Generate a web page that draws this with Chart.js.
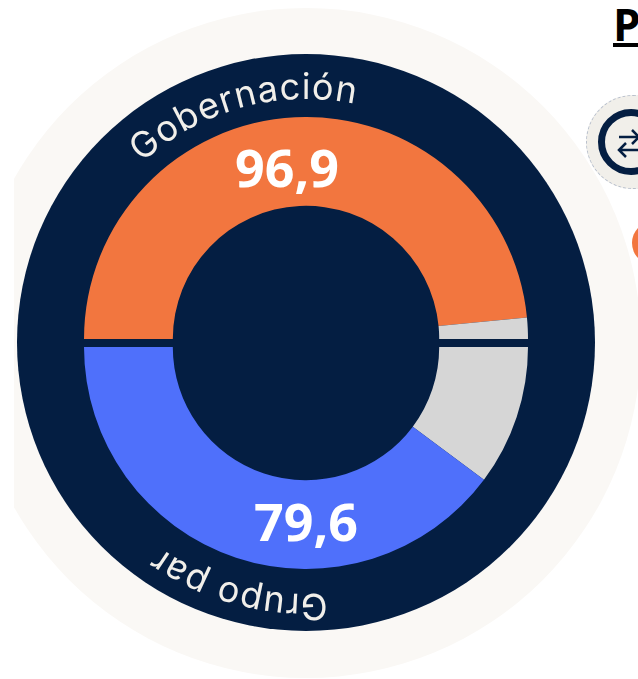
<!DOCTYPE html>
<html>
<head>
<meta charset="utf-8">
<script src="https://cdn.jsdelivr.net/npm/chart.js@4"></script>
<style>
  html, body { margin: 0; padding: 0; background: #fff; width: 638px; height: 679px; overflow: hidden; }
  #page { position: relative; width: 638px; height: 679px; overflow: hidden; }
  #halo { position: absolute; left: 14px; top: 0; width: 624px; height: 679px; overflow: hidden; }
  #halo div { position: absolute; left: -43px; top: 8px; width: 670px; height: 670px; border-radius: 50%; background: #faf8f5; }
  #navy { position: absolute; left: 17px; top: 54px; width: 578px; height: 577px; border-radius: 50%; background: #041e42; }
  canvas { position: absolute; }
  #curved { position: absolute; left: 0; top: 0; }
  #title { position: absolute; left: 613px; top: -6px; font: bold 44px "Open Sans"; color: #000; text-decoration: underline; text-decoration-thickness: 4px; }
  #swap { position: absolute; left: 586px; top: 95px; width: 94px; height: 94px; border-radius: 50%; background: #f1efea; border: 1px dashed #b9c0cc; box-sizing: border-box; }
  #swap div { position: absolute; left: 11px; top: 13px; width: 66px; height: 66px; border-radius: 50%; border: 7px solid #041e42; box-sizing: border-box; }
  #dot { position: absolute; left: 632px; top: 221px; width: 44px; height: 44px; border-radius: 50%; background: #f2763f; }
</style>
</head>
<body>
<div id="page">
  <div id="halo"><div></div></div>
  <div id="navy"></div>
  <canvas id="topChart" width="444" height="222" style="left:84px;top:117px;width:444px;height:222px"></canvas>
  <canvas id="bottomChart" width="444" height="222" style="left:84px;top:347px;width:444px;height:222px"></canvas>
  <div id="title">P</div>
  <div id="swap"><div></div></div>
  <div id="dot"></div>
  <svg id="curved" width="638" height="679">
    <defs>
      <path id="topPath" d="M 63 342 A 243 243 0 0 1 549 342"></path>
      <path id="bottomPath" d="M 558 342 A 252 252 0 0 1 54 342"></path>
    </defs>
    <text font-family="Inter" font-size="36" letter-spacing="1" fill="#f1efea" text-anchor="middle">
      <textPath href="#topPath" startOffset="41.5%">Gobernación</textPath>
    </text>
    <text font-family="Inter" font-size="36" letter-spacing="0.6" fill="#f1efea" text-anchor="middle">
      <textPath href="#bottomPath" startOffset="58.5%">Grupo par</textPath>
    </text>
    <g stroke="#041e42" stroke-width="2.5" fill="none">
      <path d="M 619 137 H 640 M 632 130 L 639 137 L 632 144 M 619 150 H 640 M 626 143 L 619 150 L 626 157"></path>
    </g>
  </svg>
</div>
<script>
/* Data */
const topLabels = ['Gobernación', 'Resto'];
const topValues = [96.9, 3.1];
const bottomLabels = ['Resto', 'Grupo par'];
const bottomValues = [20.4, 79.6];

/* Value on the coloured slice */
const valueLabel = {
  id: 'valueLabel',
  afterDraw(chart, args, opts) {
    const text = chart.data.datasets[0].data[opts.index].toFixed(1).replace('.', ',');
    const c = chart.ctx;
    c.save();
    c.font = 'bold 52px "Open Sans"';
    c.fillStyle = '#fff';
    c.textAlign = 'center';
    c.textBaseline = 'middle';
    c.fillText(text, opts.x, opts.y);
    c.restore();
  }
};

function halfRing(id, labels, values, colors, rotation, labelOpts) {
  new Chart(document.getElementById(id), {
    type: 'doughnut',
    data: {
      labels: labels,
      datasets: [{ data: values, backgroundColor: colors, borderWidth: 0 }]
    },
    options: {
      responsive: false,
      animation: false,
      rotation: rotation,
      circumference: 180,
      cutout: '60%',
      plugins: { legend: { display: false }, tooltip: { enabled: false }, valueLabel: labelOpts }
    },
    plugins: [valueLabel]
  });
}

/* Charts */
halfRing('topChart', topLabels, topValues, ['#f2763f', '#d6d6d6'], -90, { index: 0, x: 203, y: 55 });
halfRing('bottomChart', bottomLabels, bottomValues, ['#d6d6d6', '#4f70fb'], 90, { index: 1, x: 222, y: 179 });
</script>
</body>
</html>
